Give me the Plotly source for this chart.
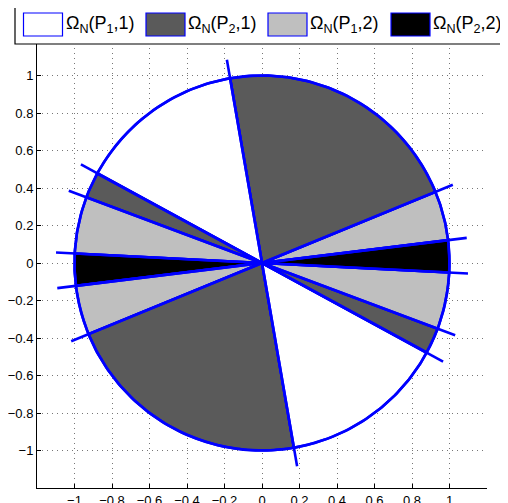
import numpy as np
import plotly.graph_objects as go

# Sector boundaries (degrees, counter-clockwise) and the class of each sector
boundaries = [7.0, 22.3, 99.8, 151.4, 159.5, 177.1, 187.0, 202.3, 279.8, 331.4, 339.5, 357.1, 367.0]
sector_class = ["P1,2", "P2,1", "P1,1", "P2,1", "P1,2", "P2,2",
                "P1,2", "P2,1", "P1,1", "P2,1", "P1,2", "P2,2"]
# Dividing lines through the origin (degrees)
line_angles = [99.8, 22.3, 7.0, -2.9, -20.5, -28.6]
line_radius = 1.1

class_names = ["P1,1", "P2,1", "P1,2", "P2,2"]
class_labels = ["Ω<sub>N</sub>(P<sub>1</sub>,1)", "Ω<sub>N</sub>(P<sub>2</sub>,1)",
                "Ω<sub>N</sub>(P<sub>1</sub>,2)", "Ω<sub>N</sub>(P<sub>2</sub>,2)"]
class_colors = {"P1,1": "#ffffff", "P2,1": "#5a5a5a", "P1,2": "#bfbfbf", "P2,2": "#000000"}
tick_vals = [-1, -0.8, -0.6, -0.4, -0.2, 0, 0.2, 0.4, 0.6, 0.8, 1]
tick_text = ["\u22121", "\u22120.8", "\u22120.6", "\u22120.4", "\u22120.2", "0",
             "0.2", "0.4", "0.6", "0.8", "1"]

BLUE = "#0000ff"
LW = 2.6

fig = go.Figure()

for i, cls in enumerate(sector_class):
    a0, a1 = np.deg2rad(boundaries[i]), np.deg2rad(boundaries[i + 1])
    t = np.linspace(a0, a1, 80)
    xs = np.concatenate([[0], np.cos(t), [0]])
    ys = np.concatenate([[0], np.sin(t), [0]])
    fig.add_trace(go.Scatter(x=xs, y=ys, mode="lines", fill="toself",
                             fillcolor=class_colors[cls],
                             line=dict(color=BLUE, width=LW),
                             showlegend=False, hoverinfo="skip"))

for a in line_angles:
    r = np.deg2rad(a)
    fig.add_trace(go.Scatter(x=[-line_radius * np.cos(r), line_radius * np.cos(r)],
                             y=[-line_radius * np.sin(r), line_radius * np.sin(r)],
                             mode="lines", line=dict(color=BLUE, width=LW),
                             showlegend=False, hoverinfo="skip"))

tc = np.linspace(0, 2 * np.pi, 400)
fig.add_trace(go.Scatter(x=np.cos(tc), y=np.sin(tc), mode="lines",
                         line=dict(color=BLUE, width=LW),
                         showlegend=False, hoverinfo="skip"))

OFF = 8  # page body margin
W, H = 508 - OFF, 503 - OFF
# plot area in window pixels: x 37..487, y 38..488
L, T = 37 - OFF, 38 - OFF
R, B = W - (487 - OFF), H - (488 - OFF)
pw, ph = W - L - R, H - T - B

def px2paper(px, py):
    # px, py are window pixel coordinates
    return (px - OFF - L) / pw, (H - B - (py - OFF)) / ph

shapes = []
# legend box
x0, y0 = px2paper(15, 44)
x1, y1 = px2paper(530, 5)
shapes.append(dict(type="rect", xref="paper", yref="paper", x0=x0, y0=y0, x1=x1, y1=y1,
                   fillcolor="white", line=dict(color="black", width=1.2), layer="above"))
annotations = []
sw_left = [23.5, 146, 268, 391]
for k, cls in enumerate(class_names):
    sx0, sy0 = px2paper(sw_left[k], 36)
    sx1, sy1 = px2paper(sw_left[k] + 39, 13)
    shapes.append(dict(type="rect", xref="paper", yref="paper", x0=sx0, y0=sy0, x1=sx1, y1=sy1,
                       fillcolor=class_colors[cls], line=dict(color=BLUE, width=1.2),
                       layer="above"))
    tx, ty = px2paper(sw_left[k] + 40, 25)
    annotations.append(dict(xref="paper", yref="paper", x=tx, y=ty, xanchor="left",
                            yanchor="middle", showarrow=False, text=class_labels[k],
                            font=dict(family="Liberation Sans, Arial", size=18, color="black")))

axis_common = dict(range=[-1.2, 1.2], tickvals=tick_vals, ticktext=tick_text,
                   showgrid=True, gridcolor="#777777", griddash="1px,4px", gridwidth=1,
                   zeroline=False, showline=True, linecolor="black", linewidth=1,
                   ticks="inside", ticklen=4, tickcolor="black", mirror=False,
                   tickfont=dict(family="Liberation Sans, Arial", size=13, color="black"),
                   automargin=False, fixedrange=True)

fig.update_layout(width=W, height=H, margin=dict(l=L, r=R, t=T, b=B, pad=0),
                  plot_bgcolor="white", paper_bgcolor="white",
                  xaxis=axis_common, yaxis=axis_common,
                  shapes=shapes, annotations=annotations, showlegend=False)

fig.write_html("out.html", config={"displayModeBar": False})
